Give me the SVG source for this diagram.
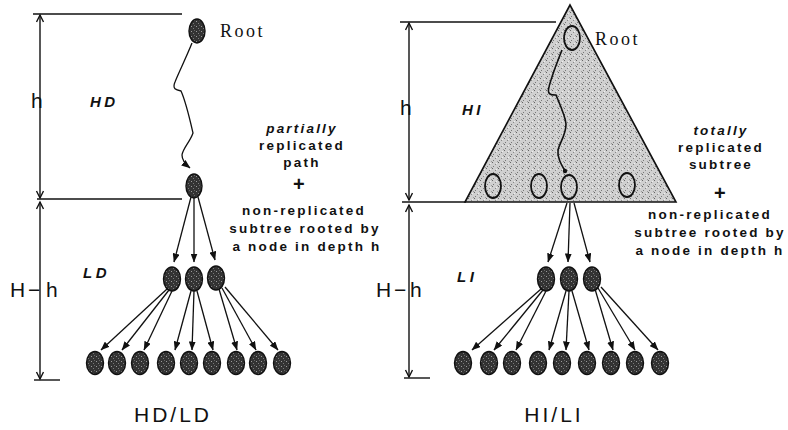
<svg xmlns="http://www.w3.org/2000/svg" width="788" height="430" viewBox="0 0 788 430">
<style>
.ln{stroke:#111;stroke-width:1.4;fill:none}
.dim{stroke:#111;stroke-width:1.4;fill:none;marker-start:url(#open);marker-end:url(#open)}
.ed{stroke:#111;stroke-width:1.3;fill:none;marker-end:url(#ah)}
.nd{fill:url(#dark);stroke:#111;stroke-width:1.4}
.nl{fill:url(#light);stroke:#111;stroke-width:1.8}
.root{font-family:"Liberation Serif",serif;font-size:18px;letter-spacing:2.5px;fill:#111}
.big{font-family:"Liberation Sans",Arial,sans-serif;font-size:21px;fill:#111}
.cap{font-family:"Liberation Sans",Arial,sans-serif;font-size:21px;letter-spacing:3px;fill:#111;text-anchor:middle}
.lab{font-family:"Liberation Sans",Arial,sans-serif;font-size:15px;font-weight:bold;font-style:italic;letter-spacing:3.5px;fill:#111}
.txt{font-family:"Liberation Sans",Arial,sans-serif;font-size:13.5px;font-weight:bold;letter-spacing:2.2px;fill:#111;text-anchor:middle}
.it{font-style:italic}
</style>
<defs>
<pattern id="dark" width="5" height="5" patternUnits="userSpaceOnUse">
<rect width="5" height="5" fill="#333"/>
<rect x="1" y="1" width="1" height="1" fill="#9a9a9a"/>
<rect x="3" y="3" width="1" height="1" fill="#7a7a7a"/>
<rect x="4" y="0" width="1" height="1" fill="#666"/>
</pattern>
<pattern id="light" width="6" height="6" patternUnits="userSpaceOnUse">
<rect width="6" height="6" fill="#d0d0d0"/>
<rect x="0" y="0" width="1" height="1" fill="#666"/>
<rect x="3" y="2" width="1" height="1" fill="#888"/>
<rect x="1" y="4" width="1" height="1" fill="#777"/>
<rect x="5" y="5" width="1" height="1" fill="#999"/>
<rect x="4" y="1" width="1" height="1" fill="#eee"/>
</pattern>
<marker id="ah" markerWidth="9" markerHeight="7" refX="8.5" refY="3.5" orient="auto" markerUnits="userSpaceOnUse">
<path d="M0,0 L9,3.5 L0,7 Z" fill="#111"/>
</marker>
<marker id="open" markerWidth="10" markerHeight="10" refX="8" refY="4" orient="auto-start-reverse" markerUnits="userSpaceOnUse">
<path d="M1,0.5 L8,4 L1,7.5" fill="none" stroke="#111" stroke-width="1.4"/>
</marker>
</defs>

<!-- Left diagram: dimensions -->
<g id="dims-left">
<line class="ln" x1="33" y1="14" x2="182" y2="14"/>
<line class="dim" x1="40" y1="15" x2="40" y2="198"/>
<line class="ln" x1="37" y1="199" x2="182" y2="199"/>
<line class="dim" x1="40" y1="202" x2="40" y2="379"/>
<line class="ln" x1="34" y1="380" x2="60" y2="380"/>
<text class="big" x="31" y="108">h</text>
<text class="big" y="297"><tspan x="10">H</tspan><tspan x="28">−</tspan><tspan x="46">h</tspan></text>
<text class="lab" x="90" y="107">HD</text>
<text class="lab" x="83" y="278">LD</text>
<text class="cap" x="173" y="422">HD/LD</text>
</g>

<!-- Right diagram: dimensions -->
<g id="dims-right">
<line class="ln" x1="400" y1="22" x2="556" y2="22"/>
<line class="dim" x1="409" y1="23" x2="409" y2="200"/>
<line class="ln" x1="402" y1="202" x2="466" y2="202"/>
<line class="dim" x1="409" y1="205" x2="409" y2="377"/>
<line class="ln" x1="404" y1="378" x2="430" y2="378"/>
<text class="big" x="400" y="115">h</text>
<text class="big" y="297"><tspan x="376">H</tspan><tspan x="394">−</tspan><tspan x="410">h</tspan></text>
<text class="lab" x="462" y="115">HI</text>
<text class="lab" x="457" y="282">LI</text>
<text class="cap" x="554" y="422">HI/LI</text>
</g>

<g id="replicated-subtree">
<polygon points="570,5 465,202 676,202" fill="url(#light)" stroke="#111" stroke-width="1.6"/>
</g>

<!-- Connectors -->
<g id="connectors">
<path class="ed" d="M192,43 C186,58 178,74 175,82 C172,89 176,90 181,91 C186,102 190,120 193,133 C190,142 183,148 182,155 C182,160 185,164 190,168"/>
<line class="ed" x1="191" y1="197" x2="174" y2="262"/>
<line class="ed" x1="194" y1="198" x2="194" y2="262"/>
<line class="ed" x1="198" y1="197" x2="215" y2="260"/>
<line class="ed" x1="167" y1="289" x2="101" y2="350"/>
<line class="ed" x1="169" y1="290" x2="122" y2="350"/>
<line class="ed" x1="172" y1="291" x2="144" y2="350"/>
<line class="ed" x1="191" y1="291" x2="175" y2="350"/>
<line class="ed" x1="194" y1="291" x2="192" y2="350"/>
<line class="ed" x1="197" y1="291" x2="213" y2="350"/>
<line class="ed" x1="219" y1="289" x2="237" y2="350"/>
<line class="ed" x1="222" y1="288" x2="256" y2="350"/>
<line class="ed" x1="225" y1="287" x2="278" y2="350"/>

<path class="ln" style="stroke-width:1.6" d="M562,50 C558,60 552,75 549,87 C547,94 550,95 556,95 C560,105 565,115 566,124 C566,135 560,142 558,150 C557,157 561,164 565,171"/>
<circle cx="565" cy="171" r="2.2" fill="#111"/>
<line class="ed" x1="567" y1="203" x2="548" y2="262"/>
<line class="ed" x1="570" y1="203" x2="568" y2="262"/>
<line class="ed" x1="574" y1="203" x2="590" y2="262"/>
<line class="ed" x1="541" y1="289" x2="472" y2="350"/>
<line class="ed" x1="543" y1="290" x2="494" y2="350"/>
<line class="ed" x1="546" y1="291" x2="516" y2="350"/>
<line class="ed" x1="566" y1="291" x2="549" y2="350"/>
<line class="ed" x1="569" y1="291" x2="566" y2="350"/>
<line class="ed" x1="572" y1="291" x2="589" y2="350"/>
<line class="ed" x1="595" y1="289" x2="613" y2="350"/>
<line class="ed" x1="598" y1="288" x2="635" y2="350"/>
<line class="ed" x1="601" y1="287" x2="658" y2="350"/>
</g>

<!-- Left nodes -->
<g id="L-root"><ellipse class="nd" cx="197" cy="31" rx="8" ry="12"/><text class="root" x="220" y="37">Root</text></g>
<g id="L-depth-h"><ellipse class="nd" cx="194" cy="186" rx="8" ry="12"/></g>
<g id="L-m1"><ellipse class="nd" cx="172" cy="279" rx="8.5" ry="12"/></g>
<g id="L-m2"><ellipse class="nd" cx="194" cy="279" rx="8.5" ry="12"/></g>
<g id="L-m3"><ellipse class="nd" cx="216" cy="278" rx="8.5" ry="12"/></g>
<g id="L-b1"><ellipse class="nd" cx="95" cy="363" rx="8.5" ry="11.5"/></g>
<g id="L-b2"><ellipse class="nd" cx="117" cy="363" rx="8.5" ry="11.5"/></g>
<g id="L-b3"><ellipse class="nd" cx="140" cy="363" rx="8.5" ry="11.5"/></g>
<g id="L-b4"><ellipse class="nd" cx="166" cy="363" rx="8.5" ry="11.5"/></g>
<g id="L-b5"><ellipse class="nd" cx="189" cy="363" rx="8.5" ry="11.5"/></g>
<g id="L-b6"><ellipse class="nd" cx="212" cy="363" rx="8.5" ry="11.5"/></g>
<g id="L-b7"><ellipse class="nd" cx="236" cy="363" rx="8.5" ry="11.5"/></g>
<g id="L-b8"><ellipse class="nd" cx="258" cy="363" rx="8.5" ry="11.5"/></g>
<g id="L-b9"><ellipse class="nd" cx="282" cy="363" rx="8.5" ry="11.5"/></g>

<!-- Right nodes -->
<g id="R-root"><ellipse class="nl" cx="572" cy="38" rx="8" ry="12"/><text class="root" x="595" y="45">Root</text></g>
<g id="R-t1"><ellipse class="nl" cx="493" cy="186" rx="8" ry="12"/></g>
<g id="R-t2"><ellipse class="nl" cx="539" cy="186" rx="8" ry="12"/></g>
<g id="R-t3"><ellipse class="nl" cx="569" cy="187" rx="8" ry="12"/></g>
<g id="R-t4"><ellipse class="nl" cx="627" cy="185" rx="8" ry="12"/></g>
<g id="R-m1"><ellipse class="nd" cx="546" cy="279" rx="8.5" ry="12"/></g>
<g id="R-m2"><ellipse class="nd" cx="569" cy="279" rx="8.5" ry="12"/></g>
<g id="R-m3"><ellipse class="nd" cx="592" cy="279" rx="8.5" ry="12"/></g>
<g id="R-b1"><ellipse class="nd" cx="463" cy="363" rx="8.5" ry="11.5"/></g>
<g id="R-b2"><ellipse class="nd" cx="489" cy="363" rx="8.5" ry="11.5"/></g>
<g id="R-b3"><ellipse class="nd" cx="512" cy="363" rx="8.5" ry="11.5"/></g>
<g id="R-b4"><ellipse class="nd" cx="538" cy="363" rx="8.5" ry="11.5"/></g>
<g id="R-b5"><ellipse class="nd" cx="562" cy="363" rx="8.5" ry="11.5"/></g>
<g id="R-b6"><ellipse class="nd" cx="587" cy="363" rx="8.5" ry="11.5"/></g>
<g id="R-b7"><ellipse class="nd" cx="611" cy="363" rx="8.5" ry="11.5"/></g>
<g id="R-b8"><ellipse class="nd" cx="635" cy="363" rx="8.5" ry="11.5"/></g>
<g id="R-b9"><ellipse class="nd" cx="660" cy="363" rx="8.5" ry="11.5"/></g>

<!-- Annotations -->
<g id="note-left">
<text class="txt it" x="302" y="133">partially</text>
<text class="txt" x="302" y="150">replicated</text>
<text class="txt" x="302" y="167">path</text>
<text class="txt" x="300" y="191" style="font-size:20px">+</text>
<text class="txt" x="304" y="215">non-replicated</text>
<text class="txt" x="305" y="233">subtree rooted by</text>
<text class="txt" x="307" y="251">a node in depth h</text>
</g>
<g id="note-right">
<text class="txt it" x="721" y="135">totally</text>
<text class="txt" x="721" y="152">replicated</text>
<text class="txt" x="721" y="169">subtree</text>
<text class="txt" x="721" y="200" style="font-size:20px">+</text>
<text class="txt" x="710" y="219">non-replicated</text>
<text class="txt" x="710" y="237">subtree rooted by</text>
<text class="txt" x="710" y="255">a node in depth h</text>
</g>
</svg>
